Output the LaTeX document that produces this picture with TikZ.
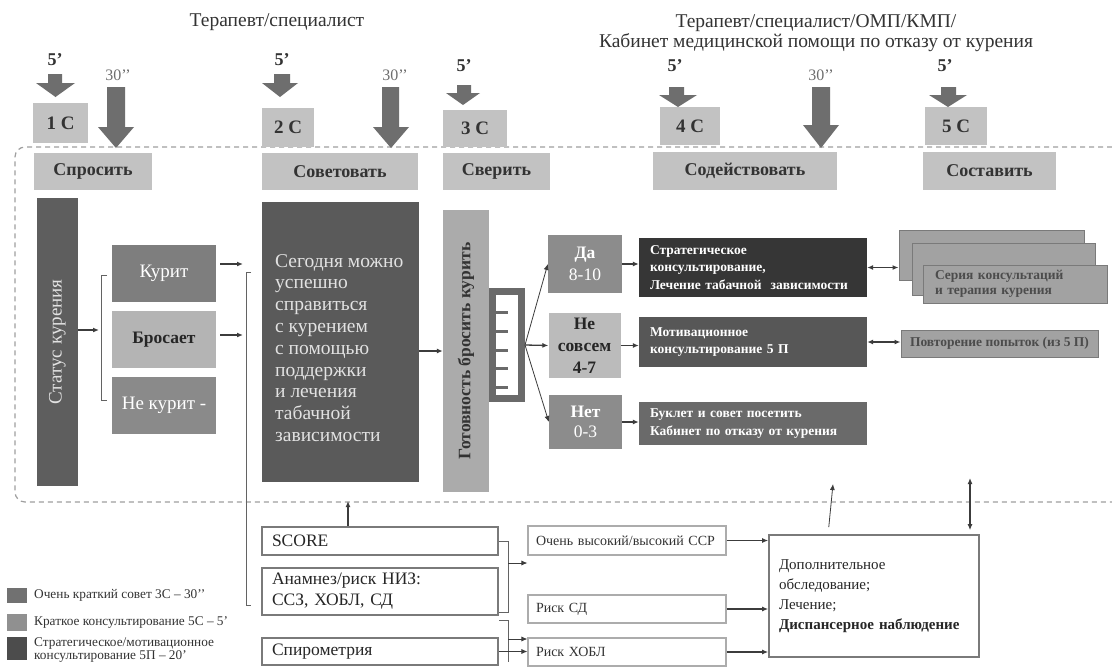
\documentclass[tikz,border=0pt]{standalone}
\usepackage{fontspec}
\setmainfont{Liberation Serif}
\usetikzlibrary{arrows.meta}
\definecolor{lbl}{HTML}{C2C2C2}
\definecolor{lbltxt}{HTML}{333333}
\definecolor{arr}{HTML}{6E6E6E}
\definecolor{stat}{HTML}{5E5E5E}
\definecolor{kur}{HTML}{7E7E7E}
\definecolor{bro}{HTML}{B4B4B4}
\definecolor{nek}{HTML}{8A8A8A}
\definecolor{sov}{HTML}{5A5A5A}
\definecolor{got}{HTML}{ABABAB}
\definecolor{comb}{HTML}{6A6A6A}
\definecolor{dabox}{HTML}{8C8C8C}
\definecolor{nes}{HTML}{BBBBBB}
\definecolor{strat}{HTML}{363636}
\definecolor{motiv}{HTML}{575757}
\definecolor{bukl}{HTML}{6A6A6A}
\definecolor{stk}{HTML}{A2A2A2}
\definecolor{stkb}{HTML}{7A7A7A}
\definecolor{ln}{HTML}{3C3C3C}
\definecolor{bord}{HTML}{7A7A7A}
\definecolor{lighttxt}{HTML}{E2E2E2}
\newcommand{\dnarrow}[7]{\fill[arr] (#1,#3) -- (#2,#3) -- (#2,#4) -- (#6,#4) -- ({(#5+#6)/2},#7) -- (#5,#4) -- (#1,#4) -- cycle;}
\tikzset{
  wh/.style 2 args={minimum width=#1pt, minimum height=#2pt},
  hdr/.style={fill=lbl, inner sep=0pt, text=lbltxt, font=\bfseries\fontsize{18}{20}\selectfont},
  cb/.style={fill=lbl, inner sep=0pt, text=lbltxt, font=\bfseries\fontsize{19}{21}\selectfont},
  five/.style={inner sep=0pt, text=lbltxt, font=\bfseries\fontsize{18}{20}\selectfont},
  thirty/.style={inner sep=0pt, text=arr, font=\fontsize{16}{18}\selectfont},
  ttl/.style={inner sep=0pt, text=lbltxt, font=\fontsize{19.5}{20.5}\selectfont, align=center},
  bigtxt/.style={inner sep=0pt, font=\fontsize{19}{22}\selectfont},
  midtxt/.style={inner sep=0pt, font=\bfseries\fontsize{17.5}{22}\selectfont, align=center},
  darkbox/.style={inner sep=0pt, inner xsep=11pt, align=left, text=white, font=\bfseries\fontsize{13.5}{17.5}\selectfont},
  conn/.style={draw=ln, line width=1.3pt, -{Latex[length=6pt,width=5pt]}},
  thinconn/.style={draw=ln, line width=0.8pt, -{Latex[length=6pt,width=5pt]}},
  dbl/.style={draw=ln, line width=1.3pt, {Latex[length=6pt,width=5pt]}-{Latex[length=6pt,width=5pt]}},
  brk/.style={draw=ln!80, line width=1pt},
  dashline/.style={draw=gray!75, line width=1.2pt, dash pattern=on 5pt off 4pt, rounded corners=10pt},
  bbox/.style={draw=bord, line width=1.6pt, fill=white, inner sep=0pt, align=left, text=black!85},
  sbox/.style={draw=gray!65, line width=1.1pt, fill=white, inner sep=0pt, inner xsep=8pt, align=left, text=black!80, font=\fontsize{14}{16}\selectfont},
  leg/.style={inner sep=0pt, anchor=west, align=left, text=black!80, font=\fontsize{13.3}{13.5}\selectfont},
  legsq/.style={inner sep=0pt, minimum width=20pt}
}
\begin{document}
\begin{tikzpicture}[x=1pt,y=-1pt]
\useasboundingbox (0,0) rectangle (1112,667);
\fill[white] (0,0) rectangle (1112,667);

% titles
\node[ttl] (t1) at (277,22) {Терапевт/специалист};
\node[ttl] (t2) at (816,33) {Терапевт/специалист/ОМП/КМП/\\Кабинет медицинской помощи по отказу от курения};

% dashed frame
\draw[dashline] (1112,147) -- (15,147) -- (15,502) -- (1112,502);

% fat arrows
\dnarrow{48}{62}{74}{83}{36}{75}{97}
\dnarrow{107}{125}{87}{127}{98}{134}{148}
\dnarrow{274}{290}{74}{83}{262}{298}{97}
\dnarrow{382}{399}{87}{127}{373}{409}{148}
\dnarrow{457}{471}{85}{93}{446}{480}{105}
\dnarrow{669}{684}{87}{95}{659}{697}{107}
\dnarrow{812}{830}{87}{125}{803}{839}{148}
\dnarrow{941}{956}{87}{95}{929}{967}{107}

\node[five] (f1) at (55,60) {5’};
\node[thirty] (h1) at (118,75) {30’’};
\node[five] (f2) at (282,60) {5’};
\node[thirty] (h2) at (395,75) {30’’};
\node[five] (f3) at (464,66) {5’};
\node[five] (f4) at (675,66) {5’};
\node[thirty] (h3) at (821,75) {30’’};
\node[five] (f5) at (945,66) {5’};

% C boxes and headers
\node[cb, wh={55}{40}] (c1) at (60.5,123) {1 C};
\node[hdr, wh={118}{37}] (q1) at (93,171.5) {Спросить};
\node[cb, wh={52}{39}] (c2) at (288,127.5) {2 C};
\node[hdr, wh={156}{37}] (q2) at (340,171.5) {Советовать};
\node[cb, wh={64}{37}] (c3) at (475,128.5) {3 C};
\node[hdr, wh={107}{37}] (q3) at (496.5,171.5) {Сверить};
\node[cb, wh={60}{38}] (c4) at (690,126) {4 C};
\node[hdr, wh={184}{38}] (q4) at (745,171) {Содействовать};
\node[cb, wh={62}{38}] (c5) at (956,126) {5 C};
\node[hdr, wh={133}{38}] (q5) at (989.5,171) {Составить};

% status column
\node[fill=stat, inner sep=0pt, wh={41}{288}] (status) at (57.5,342) {};
\node[bigtxt, rotate=90, text=lighttxt] (statustxt) at (status.center) {Статус курения};

\node[fill=kur, wh={104}{57}, bigtxt, text=white] (kurit) at (164,273.5) {Курит};
\node[fill=bro, wh={104}{57}, bigtxt, font=\bfseries\fontsize{17.5}{20}\selectfont, text=black!85] (bros) at (164,339.5) {Бросает};
\node[fill=nek, wh={104}{57}, bigtxt, text=white] (nekur) at (164,405) {Не курит -};

% bracket 1
\coordinate (b1) at (99,330);
\draw[brk] (107,275) -- (101,275) -- (101,400) -- (107,400);
\draw[conn] (status.east |- b1) -- (b1);

% arrows to bracket 2
\coordinate (k2) at (243,264);
\coordinate (r2) at (243,335);
\draw[conn, shorten <=4pt] (kurit.east |- k2) -- (k2);
\draw[conn, shorten <=4pt] (bros.east |- r2) -- (r2);
\draw[brk] (251,272) -- (246,272) -- (246,605) -- (251,605);

% sovet box
\node[fill=sov, inner sep=0pt, wh={157}{280}] (sovet) at (340.5,342) {};
\node[inner sep=0pt, anchor=west, align=left, text=lighttxt, font=\fontsize{19.5}{21.8}\selectfont] (sovtxt) at (275,348) {Сегодня можно\\успешно\\справиться\\с курением\\с помощью\\поддержки\\и лечения\\табачной\\зависимости};

% readiness
\node[fill=got, inner sep=0pt, wh={46}{282}] (gotov) at (466,351) {};
\node[inner sep=0pt, rotate=90, text=black!80, font=\bfseries\fontsize{17.5}{19}\selectfont] (gotovtxt) at (gotov.center) {Готовность бросить курить};
\draw[conn] (sovet.east |- gotov.west) -- (gotov.west);

% comb
\draw[comb, line width=7pt] (492.5,291.5) rectangle (521.5,398.5);
\foreach \yy in {312,331,350,368,387} \draw[comb, line width=3pt] (496,\yy) -- (508,\yy);
\coordinate (fan) at (525,345);

% answers
\node[fill=dabox, wh={74}{58}, midtxt, text=white] (da) at (585,264) {Да\\\mdseries 8-10};
\node[fill=nes, wh={72}{65}, midtxt, text=black!85] (nes) at (584.5,345.5) {Не\\совсем\\4-7};
\node[fill=dabox, wh={73}{54}, midtxt, font=\bfseries\fontsize{17.5}{20}\selectfont, text=white] (net) at (585.5,422) {Нет\\\mdseries 0-3};
\draw[thinconn] (fan) -- (da.west);
\draw[conn] (fan) -- (nes.west);
\draw[thinconn] (fan) -- (net.west);

\node[fill=strat, darkbox, wh={228}{59}, text width=206pt] (strat) at (753,267.5) {Стратегическое\\консультирование,\\Лечение табачной \ зависимости};
\node[fill=motiv, darkbox, wh={228}{50}, text width=206pt] (motiv) at (753,342) {Мотивационное\\консультирование 5 П};
\node[fill=bukl, darkbox, wh={228}{43}, text width=206pt] (bukl) at (753,423.5) {Буклет и совет посетить\\Кабинет по отказу от курения};
\draw[conn] (da.east) -- (strat.west |- da.east);
\draw[conn] (nes.east) -- (motiv.west |- nes.east);
\draw[conn] (net.east) -- (bukl.west |- net.east);

% stacked
\node[fill=stk, draw=stkb, line width=1pt, inner sep=0pt, wh={185}{50}] (stk1) at (991.5,255) {};
\node[fill=stk, draw=stkb, line width=1pt, inner sep=0pt, wh={183}{52}] (stk2) at (1004,269) {};
\node[fill=stk, draw=stkb, line width=1pt, inner sep=0pt, inner xsep=12pt, wh={184}{38}, text width=160pt, align=left, text=black!70, font=\bfseries\fontsize{13.5}{15}\selectfont] (stk3) at (1015,284) {Серия консультаций\\и терапия курения};
\draw[dbl] (strat.east) -- (stk1.west |- strat.east);

\node[fill=stk, draw=stkb, line width=1pt, inner sep=0pt, wh={197}{27}, text=black!70, font=\bfseries\fontsize{13.5}{15}\selectfont] (povtor) at (999.5,343.5) {Повторение попыток (из 5 П)};
\draw[dbl] (motiv.east) -- (povtor.west |- motiv.east);

% bottom left boxes
\node[bbox, wh={236}{28}, text width=216pt, inner xsep=10pt, font=\fontsize{17.5}{19}\selectfont] (score) at (380,541) {SCORE};
\node[bbox, wh={236}{47}, text width=216pt, inner xsep=10pt, font=\fontsize{17.5}{21}\selectfont] (anam) at (380,591.5) {Анамнез/риск НИЗ:\\ССЗ, ХОБЛ, СД};
\node[bbox, wh={236}{27}, text width=216pt, inner xsep=10pt, font=\fontsize{17.5}{19}\selectfont] (spiro) at (380,651.5) {Спирометрия};
\coordinate (up1) at (348,501);
\draw[conn] (score.north -| up1) -- (up1);

% risk boxes
\node[sbox, wh={198}{29}, text width=182pt] (ssr) at (627,540.5) {Очень высокий/высокий ССР};
\node[sbox, wh={198}{28}, text width=182pt] (sd) at (627,609) {Риск СД};
\node[sbox, wh={198}{28}, text width=182pt] (hobl) at (627,652) {Риск ХОБЛ};

% brackets bottom
\coordinate (bm1) at (508,563);
\draw[brk] (score.east) -- (508,541) -- (508,612) -- (499,612);
\draw[thinconn] (bm1) -- (ssr.west |- bm1);
\coordinate (bm2) at (508,639);
\draw[brk] (499,620) -- (508,620) -- (508,662);
\draw[thinconn] (bm2) -- (hobl.west |- bm2);
\draw[thinconn] (spiro.east) -- (hobl.west |- spiro.east);

% dop box
\node[bbox, wh={210}{122}, text width=190pt, inner xsep=10pt, font=\fontsize{15}{20}\selectfont] (dop) at (874,596) {Дополнительное\\обследование;\\Лечение;\\\textbf{Диспансерное наблюдение}};
\draw[conn] (ssr.east) -- (dop.west |- ssr.east);
\draw[conn] (sd.east) -- (dop.west |- sd.east);
\draw[conn] (hobl.east) -- (dop.west |- hobl.east);
\coordinate (dopa) at (828,535);
\coordinate (dopb) at (833,484);
\draw[thinconn, shorten <=8pt] (dopa) -- (dopb);
\coordinate (dd) at (970,478);
\draw[dbl, shorten <=4pt] (dop.north -| dd) -- (dd);

% legend
\node[legsq, fill=kur!90!black, minimum height=15pt] (lg1) at (17,595.5) {};
\node[leg] (lt1) at (34,595.5) {Очень краткий совет 3С – 30’’};
\node[legsq, fill=nek!95!white, minimum height=17pt] (lg2) at (17,622.5) {};
\node[leg] (lt2) at (34,622.5) {Краткое консультирование 5С – 5’};
\node[legsq, fill=sov!85!black, minimum height=23pt] (lg3) at (17,648.5) {};
\node[leg] (lt3) at (34,650) {Стратегическое/мотивационное\\консультирование 5П – 20’};
\end{tikzpicture}
\end{document}
